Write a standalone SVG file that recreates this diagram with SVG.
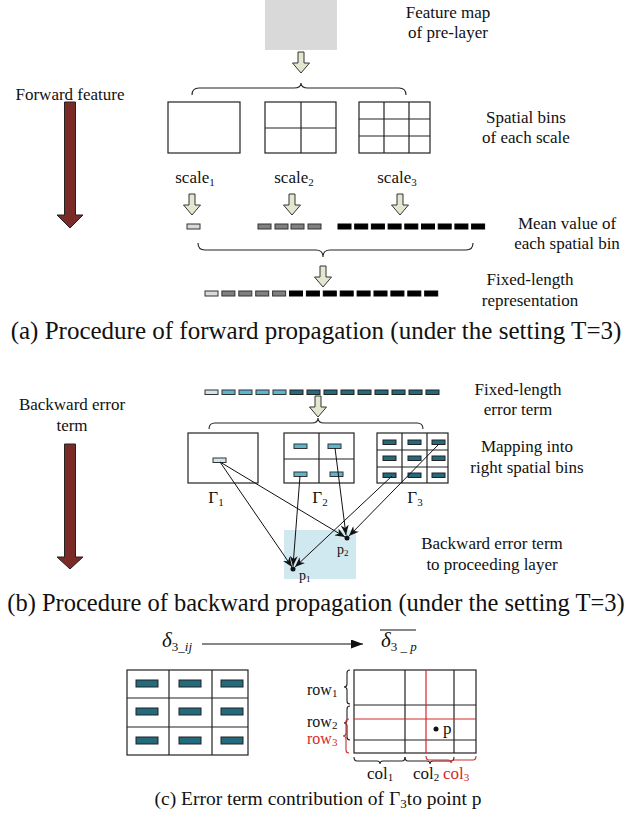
<svg xmlns="http://www.w3.org/2000/svg" width="637" height="817" viewBox="0 0 637 817">
<style>
text{font-family:"Liberation Serif","Times New Roman",serif;fill:#111}
.lbl{font-size:17px;text-anchor:middle}
.cap{font-size:25px;text-anchor:middle}
.sub{font-size:11px}
.box{fill:#fff;stroke:#222;stroke-width:1.2}
.grid{stroke:#222;stroke-width:1.2;fill:none}
.hollow{fill:#e4e7d0;stroke:#333;stroke-width:1}
.brace{fill:none;stroke:#222;stroke-width:1.1}
.redb{fill:none;stroke:#d42a2a;stroke-width:1.1}
.big{fill:#7a2b28;stroke:#222;stroke-width:1}
.g1{fill:#d9d9d9;stroke:#333;stroke-width:1}
.g2{fill:#808080;stroke:#333;stroke-width:1}
.g3{fill:#000;stroke:#000;stroke-width:1}
.b1{fill:#cfe6ee;stroke:#333;stroke-width:1}
.b2{fill:#5bb6cf;stroke:#333;stroke-width:1}
.b3{fill:#236a7d;stroke:#222;stroke-width:1}
.conn{stroke:#111;stroke-width:1;fill:none;marker-end:url(#ah)}
.red{fill:#d42a2a}
</style>
<defs>
<path id="ha" d="M-3,-21 L3,-21 L3,-10 L8.5,-10 L0,0 L-8.5,-10 L-3,-10 Z" class="hollow"/>
<marker id="ah" viewBox="0 0 10 8" refX="10" refY="4" markerWidth="10" markerHeight="8" markerUnits="userSpaceOnUse" orient="auto"><path d="M0,0 L10,4 L0,8 L3,4 Z" fill="#111"/></marker>
<marker id="ah2" viewBox="0 0 12 9" refX="12" refY="4.5" markerWidth="13" markerHeight="9" markerUnits="userSpaceOnUse" orient="auto"><path d="M0,0 L12,4.5 L0,9 Z" fill="#111"/></marker>
</defs>

<!-- (a) forward -->
<g id="fwd-arrow">
<path class="big" d="M64.5,102 L75.5,102 L75.5,215 L83,215 L70,228 L57,215 L64.5,215 Z"/>
<text class="lbl" x="70" y="100">Forward feature</text>
</g>
<g id="featmap">
<rect x="265" y="0" width="72" height="50" fill="#d9d9d9"/>
<text class="lbl" x="448" y="18">Feature map</text>
<text class="lbl" x="448" y="38">of pre-layer</text>
</g>
<g id="bins">
<rect class="box" x="168" y="102" width="72" height="51"/>
<rect class="box" x="265" y="102" width="71" height="51"/>
<path class="grid" d="M301,102 V153 M265,128 H336"/>
<rect class="box" x="359" y="102" width="71" height="51"/>
<path class="grid" d="M384,102 V153 M409,102 V153 M359,119 H430 M359,136 H430"/>
<text class="lbl" x="526" y="123">Spatial bins</text>
<text class="lbl" x="526" y="143">of each scale</text>
</g>
<g id="scales">
<text class="lbl" x="195" y="183">scale<tspan class="sub" dy="3">1</tspan></text>
<text class="lbl" x="294" y="183">scale<tspan class="sub" dy="3">2</tspan></text>
<text class="lbl" x="397" y="183">scale<tspan class="sub" dy="3">3</tspan></text>
</g>
<g id="means">
<rect class="g1" x="187" y="224" width="13" height="5"/>
<rect class="g2" x="258" y="224" width="13" height="5"/>
<rect class="g2" x="275" y="224" width="13" height="5"/>
<rect class="g2" x="291" y="224" width="13" height="5"/>
<rect class="g2" x="308" y="224" width="13" height="5"/>
<rect class="g3" x="338" y="224" width="13" height="5"/>
<rect class="g3" x="354.7" y="224" width="13" height="5"/>
<rect class="g3" x="371.4" y="224" width="13" height="5"/>
<rect class="g3" x="388.1" y="224" width="13" height="5"/>
<rect class="g3" x="404.8" y="224" width="13" height="5"/>
<rect class="g3" x="421.5" y="224" width="13" height="5"/>
<rect class="g3" x="438.2" y="224" width="13" height="5"/>
<rect class="g3" x="454.9" y="224" width="13" height="5"/>
<rect class="g3" x="471.6" y="224" width="13" height="5"/>
<text class="lbl" x="567" y="229">Mean value of</text>
<text class="lbl" x="567" y="249">each spatial bin</text>
</g>
<g id="fixed">
<rect class="g1" x="205" y="291" width="13" height="5"/>
<rect class="g2" x="221.9" y="291" width="13" height="5"/>
<rect class="g2" x="238.8" y="291" width="13" height="5"/>
<rect class="g2" x="255.7" y="291" width="13" height="5"/>
<rect class="g2" x="272.6" y="291" width="13" height="5"/>
<rect class="g3" x="289.5" y="291" width="13" height="5"/>
<rect class="g3" x="306.4" y="291" width="13" height="5"/>
<rect class="g3" x="323.3" y="291" width="13" height="5"/>
<rect class="g3" x="340.2" y="291" width="13" height="5"/>
<rect class="g3" x="357.1" y="291" width="13" height="5"/>
<rect class="g3" x="374" y="291" width="13" height="5"/>
<rect class="g3" x="390.9" y="291" width="13" height="5"/>
<rect class="g3" x="407.8" y="291" width="13" height="5"/>
<rect class="g3" x="424.7" y="291" width="13" height="5"/>
<text class="lbl" x="530" y="285">Fixed-length</text>
<text class="lbl" x="530" y="306">representation</text>
</g>
<g id="connectors-a">
<use href="#ha" x="301" y="73"/>
<path class="brace" d="M192,95 Q192,88 199,88 L294,88 Q301,88 301,83 Q301,88 308,88 L399,88 Q406,88 406,95"/>
<use href="#ha" x="192" y="215"/>
<use href="#ha" x="292" y="215"/>
<use href="#ha" x="400" y="215"/>
<path class="brace" d="M198,243 Q198,250 205,250 L316,250 Q323,250 323,257 Q323,250 330,250 L466,250 Q473,250 473,243"/>
<use href="#ha" x="323" y="287"/>
</g>
<text class="cap" x="316" y="339">(a) Procedure of forward propagation (under the setting T=3)</text>

<!-- (b) backward -->
<g id="bwd-arrow">
<path class="big" d="M64.5,444 L75.5,444 L75.5,557 L83,557 L70,569 L57,557 L64.5,557 Z"/>
<text class="lbl" x="72" y="410">Backward error</text>
<text class="lbl" x="72" y="431">term</text>
</g>
<g id="errterm">
<rect class="b1" x="205" y="390" width="13" height="4.5"/>
<rect class="b2" x="222" y="390" width="13" height="4.5"/>
<rect class="b2" x="239" y="390" width="13" height="4.5"/>
<rect class="b2" x="256" y="390" width="13" height="4.5"/>
<rect class="b2" x="273" y="390" width="13" height="4.5"/>
<rect class="b3" x="290" y="390" width="13" height="4.5"/>
<rect class="b3" x="307" y="390" width="13" height="4.5"/>
<rect class="b3" x="324" y="390" width="13" height="4.5"/>
<rect class="b3" x="341" y="390" width="13" height="4.5"/>
<rect class="b3" x="358" y="390" width="13" height="4.5"/>
<rect class="b3" x="375" y="390" width="13" height="4.5"/>
<rect class="b3" x="392" y="390" width="13" height="4.5"/>
<rect class="b3" x="409" y="390" width="13" height="4.5"/>
<rect class="b3" x="426" y="390" width="13" height="4.5"/>
<text class="lbl" x="518" y="395">Fixed-length</text>
<text class="lbl" x="518" y="415">error term</text>
</g>
<g id="gamma1">
<rect class="box" x="188" y="433" width="70" height="50"/>
<rect class="b1" x="213" y="458" width="13" height="4.5"/>
<text class="lbl" x="216" y="503">Γ<tspan class="sub" dy="3">1</tspan></text>
</g>
<g id="gamma2">
<rect class="box" x="284" y="433" width="70" height="50"/>
<path class="grid" d="M319,433 V483 M284,459 H354"/>
<rect class="b2" x="294" y="444" width="13" height="4.5"/>
<rect class="b2" x="328" y="444" width="13" height="4.5"/>
<rect class="b2" x="294" y="472" width="13" height="4.5"/>
<rect class="b2" x="330" y="472" width="13" height="4.5"/>
<text class="lbl" x="320" y="503">Γ<tspan class="sub" dy="3">2</tspan></text>
</g>
<g id="gamma3">
<rect class="box" x="377" y="433" width="71" height="50"/>
<path class="grid" d="M402,433 V483 M427,433 V483 M377,450 H448 M377,467 H448"/>
<rect class="b3" x="383" y="440" width="13" height="4.5"/>
<rect class="b3" x="408" y="440" width="13" height="4.5"/>
<rect class="b3" x="432" y="440" width="13" height="4.5"/>
<rect class="b3" x="383" y="456" width="13" height="4.5"/>
<rect class="b3" x="408" y="456" width="13" height="4.5"/>
<rect class="b3" x="432" y="456" width="13" height="4.5"/>
<rect class="b3" x="383" y="473" width="13" height="4.5"/>
<rect class="b3" x="408" y="473" width="13" height="4.5"/>
<rect class="b3" x="432" y="473" width="13" height="4.5"/>
<text class="lbl" x="415" y="503">Γ<tspan class="sub" dy="3">3</tspan></text>
</g>
<text class="lbl" x="527" y="452">Mapping into</text>
<text class="lbl" x="527" y="473">right spatial bins</text>
<g id="target">
<rect x="284" y="530" width="72" height="49" fill="#d0e8ef"/>
<circle cx="293" cy="569" r="2.5" fill="#111"/>
<circle cx="347" cy="538" r="2.5" fill="#111"/>
<text x="299" y="580" font-size="14">p<tspan font-size="9" dy="2">1</tspan></text>
<text x="337" y="554" font-size="14">p<tspan font-size="9" dy="2">2</tspan></text>
</g>
<text class="lbl" x="492" y="549">Backward error term</text>
<text class="lbl" x="492" y="570">to proceeding layer</text>
<g id="connectors-b">
<use href="#ha" x="318" y="417"/>
<path class="brace" d="M209,429 Q209,423 215,423 L312,423 Q318,423 318,418 Q318,423 324,423 L417,423 Q423,423 423,429"/>
<line class="conn" x1="220" y1="462" x2="292" y2="567"/>
<line class="conn" x1="220" y1="462" x2="345" y2="537"/>
<line class="conn" x1="300" y1="476" x2="293" y2="566"/>
<line class="conn" x1="335" y1="448" x2="346" y2="535"/>
<line class="conn" x1="392" y1="476" x2="295" y2="567"/>
<line class="conn" x1="439" y1="444" x2="349" y2="536"/>
</g>
<text class="cap" x="316" y="611" font-size="24.5" style="font-size:24.5px">(b) Procedure of backward propagation (under the setting T=3)</text>

<!-- (c) -->
<g id="delta">
<text x="162" y="647" font-size="21" font-style="italic">δ<tspan font-size="13" font-style="normal" dy="4">3</tspan><tspan font-size="13">_</tspan><tspan font-size="13">ij</tspan></text>
</g>
<g id="deltabar">
<text x="381" y="647" font-size="21" font-style="italic">δ<tspan font-size="13" font-style="normal" dy="4">3</tspan><tspan font-size="13"> _ p</tspan></text>
<line x1="380" y1="630" x2="416" y2="630" stroke="#111" stroke-width="1.2"/>
</g>
<g id="leftgrid">
<rect class="box" x="127" y="670" width="121" height="85"/>
<path class="grid" d="M169,670 V755 M212,670 V755 M127,698 H248 M127,727 H248"/>
<rect class="b3" x="136" y="680" width="22" height="7"/>
<rect class="b3" x="179" y="680" width="22" height="7"/>
<rect class="b3" x="221" y="680" width="22" height="7"/>
<rect class="b3" x="136" y="708" width="22" height="7"/>
<rect class="b3" x="179" y="708" width="22" height="7"/>
<rect class="b3" x="221" y="708" width="22" height="7"/>
<rect class="b3" x="136" y="737" width="22" height="7"/>
<rect class="b3" x="179" y="737" width="22" height="7"/>
<rect class="b3" x="221" y="737" width="22" height="7"/>
</g>
<g id="rightgrid">
<rect class="box" x="354" y="670" width="122" height="83"/>
<path class="grid" d="M405,670 V753 M454,670 V753 M354,705 H476 M354,740 H476"/>
<path d="M426,670 V753 M354,719 H476" stroke="#d42a2a" stroke-width="1.2" fill="none"/>
<circle cx="436" cy="729" r="2.5" fill="#111"/>
<text x="443" y="734" font-size="17">p</text>
</g>
<g id="rowcol">
<path class="brace" d="M350,670 Q347,670 347,673 L347,684 Q347,687 344,687 Q347,687 347,690 L347,701 Q347,704 350,704"/>
<path class="brace" d="M350,706 Q347,706 347,709 L347,720 Q347,723 344,723 Q347,723 347,726 L347,737 Q347,740 350,740"/>
<path class="redb" d="M349,719 Q346,719 346,722 L346,733 Q346,736 343,736 Q346,736 346,739 L346,750 Q346,753 349,753"/>
<path class="brace" d="M354,757 Q354,761 357,761 L377,761 Q380,761 380,764 Q380,761 383,761 L402,761 Q405,761 405,757"/>
<path class="brace" d="M405,757 Q405,761 408,761 L427,761 Q430,761 430,764 Q430,761 433,761 L451,761 Q454,761 454,757"/>
<path class="redb" d="M426,756 Q426,760 429,760 L448,760 Q451,760 451,763 Q451,760 454,760 L473,760 Q476,760 476,756"/>
<text x="307" y="695" font-size="16">row<tspan class="sub" dy="2">1</tspan></text>
<text x="307" y="727" font-size="16">row<tspan class="sub" dy="2">2</tspan></text>
<text x="307" y="744" font-size="16" class="red">row<tspan class="sub red" dy="2">3</tspan></text>
<text x="367" y="779" font-size="17">col<tspan class="sub" dy="2">1</tspan></text>
<text x="413" y="779" font-size="17">col<tspan class="sub" dy="2">2</tspan></text>
<text x="443" y="779" font-size="17" class="red">col<tspan class="sub red" dy="2">3</tspan></text>
</g>
<g id="connectors-c">
<line x1="202" y1="644" x2="363" y2="644" stroke="#111" stroke-width="1.2" marker-end="url(#ah2)"/>
</g>
<text x="318" y="805" font-size="19.5" text-anchor="middle">(c) Error term contribution of Γ<tspan font-size="13" dy="3">3</tspan><tspan dy="-3">to point p</tspan></text>
</svg>
